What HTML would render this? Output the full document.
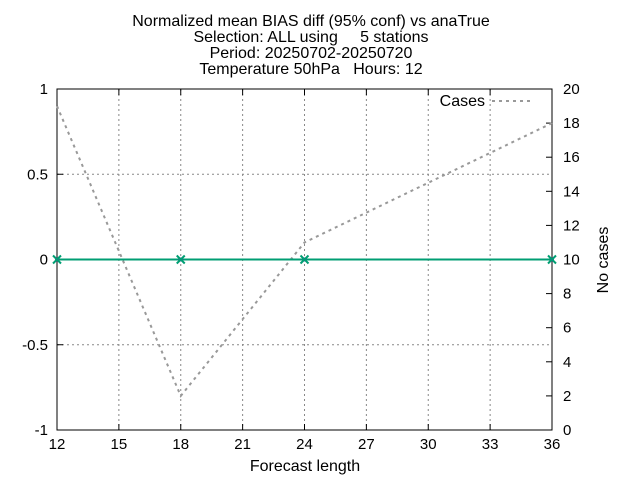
<!DOCTYPE html>
<html><head><meta charset="utf-8"><style>
body{margin:0;background:#fff;}
svg text{font-family:"Liberation Sans",sans-serif;fill:#000;white-space:pre;}
</style></head><body>
<svg id="chart" width="640" height="480" xmlns="http://www.w3.org/2000/svg" xml:space="preserve">
<g text-anchor="middle">
<text x="311" y="26" style="font-size:16px">Normalized mean BIAS diff (95% conf) vs anaTrue</text>
<text x="311" y="42" style="font-size:16px">Selection: ALL using     5 stations</text>
<text x="311" y="58" style="font-size:16px">Period: 20250702-20250720</text>
<text x="311" y="74" style="font-size:16px">Temperature 50hPa   Hours: 12</text>
</g>
<g id="grid"></g>
<g id="axes"></g>
<g id="series"></g>
<text x="305" y="471" text-anchor="middle" style="font-size:16px">Forecast length</text>
<text transform="translate(608,260) rotate(-90)" text-anchor="middle" style="font-size:16px">No cases</text>
<g>
<text x="485" y="106" text-anchor="end" style="font-size:16px">Cases</text>
<line x1="492" y1="101" x2="530" y2="101" stroke="#999" stroke-width="2" stroke-dasharray="3,4"/>
</g>
</svg>
<script>
const xTicks=[12,15,18,21,24,27,30,33,36];
const yTicks=[-1,-0.5,0,0.5,1];
const yTickLabels=["-1","-0.5","0","0.5","1"];
const y2Ticks=[0,2,4,6,8,10,12,14,16,18,20];
const biasX=[12,18,24,36];
const biasY=[0,0,0,0];
const casesX=[12,18,24,36];
const casesY=[19,2,11,18];
const L=57,R=552,T=89,B=430,NS="http://www.w3.org/2000/svg";
const sx=v=>L+(v-12)/(36-12)*(R-L);
const sy=v=>B-(v+1)/2*(B-T);
const sy2=v=>B-v/20*(B-T);
function mk(tag,attrs,parent){const e=document.createElementNS(NS,tag);for(const k in attrs)e.setAttribute(k,attrs[k]);parent.appendChild(e);return e;}
const grid=document.getElementById('grid'),axes=document.getElementById('axes'),ser=document.getElementById('series');
xTicks.forEach(v=>{const x=sx(v);
 if(v>12&&v<36){const g=mk('line',{x1:x,y1:T,x2:x,y2:B,stroke:'#888','stroke-width':1,'stroke-dasharray':'2,3'},grid);
 
 }
 const t=mk('text',{x:x,y:B+19,'text-anchor':'middle',style:'font-size:15px'},axes);t.textContent=v;
 
 
 mk('line',{x1:x,y1:B,x2:x,y2:B-6,stroke:'#000'},axes);mk('line',{x1:x,y1:T,x2:x,y2:T+6,stroke:'#000'},axes);});
yTicks.forEach((v,i)=>{const y=sy(v);
 if(v>-1&&v<1){const g=mk('line',{x1:L,y1:y,x2:R,y2:y,stroke:'#888','stroke-width':1,'stroke-dasharray':'2,3'},grid);
 
 }
 const t=mk('text',{x:L-9,y:y+5,'text-anchor':'end',style:'font-size:15px'},axes);t.textContent=yTickLabels[i];
 
 
 mk('line',{x1:L,y1:y,x2:L+6,y2:y,stroke:'#000'},axes);});
y2Ticks.forEach(v=>{const y=sy2(v);
 const t=mk('text',{x:R+11,y:y+5,'text-anchor':'start',style:'font-size:15px'},axes);t.textContent=v;
 
 
 mk('line',{x1:R,y1:y,x2:R-6,y2:y,stroke:'#000'},axes);});
const fr=mk('rect',{x:L,y:T,width:R-L,height:B-T,fill:'none',stroke:'#000','stroke-width':1},axes);


const cp=mk('polyline',{points:casesX.map((x,i)=>sx(x)+','+sy2(casesY[i])).join(' '),fill:'none',stroke:'#999','stroke-width':2,'stroke-dasharray':'3,4'},ser);


const bp=mk('polyline',{points:biasX.map((x,i)=>sx(x)+','+sy(biasY[i])).join(' '),fill:'none',stroke:'#009e73','stroke-width':2},ser);


biasX.forEach((x,i)=>{const cx=sx(x),cy=sy(biasY[i]);
 const g=mk('g',{},ser);
 
 
 mk('circle',{cx:cx,cy:cy,r:2,fill:'#9400d3'},g);
 mk('path',{d:`M${cx-4},${cy-4}L${cx+4},${cy+4}M${cx-4},${cy+4}L${cx+4},${cy-4}`,stroke:'#009e73','stroke-width':2},g);});
</script>
</body></html>
